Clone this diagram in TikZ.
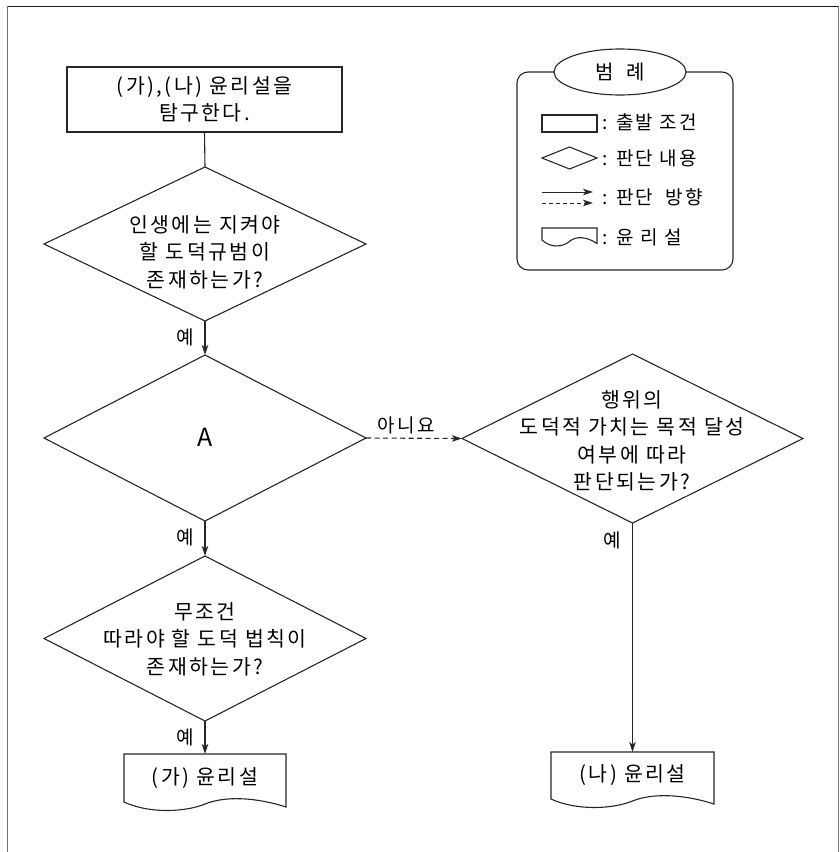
\documentclass[tikz,border=0pt]{standalone}
\usepackage{fontspec}
\setmainfont[LetterSpace=12]{Noto Sans CJK KR}
\usetikzlibrary{shapes.geometric,arrows.meta,calc}
\newcommand\docshape[3]{%
  \draw[line] (#1.north west) -- (#1.north east) -- ($(#1.south east)+(0,{5*#3})$)
    .. controls ($(#1.south west)+({0.81*#2},{-5*#3})$) and ($(#1.south west)+({0.62*#2},{-6*#3})$)
    .. ($(#1.south west)+({0.5*#2},{2*#3})$)
    .. controls ($(#1.south west)+({0.38*#2},{10*#3})$) and ($(#1.south west)+({0.16*#2},{12*#3})$)
    .. (#1.south west) -- cycle;}
\begin{document}
\begin{tikzpicture}[x=1pt,y=-1pt,
  line/.style={draw=black!85, line width=1.1pt},
  arr/.style={line, -{Stealth[length=10pt,width=6.5pt,inset=2.5pt]}},
  dia/.style={diamond, line, inner sep=0pt, outer sep=0pt},
  box/.style={rectangle, line, inner sep=0pt, outer sep=0pt},
  txt/.style={font=\fontsize{20.5}{27.5}\selectfont, align=center, inner sep=0pt},
  lab/.style={font=\fontsize{19}{20}\selectfont, inner sep=0pt},
  doc/.style={rectangle, inner sep=0pt, outer sep=0pt, font=\fontsize{20.5}{22}\selectfont},
]
\useasboundingbox (0,0) rectangle (839,852);
% frame
\draw[black!90, line width=1pt] (7,6) -- (838,6);
\draw[black!55, line width=1pt] (7,6) -- (7,852);
\draw[black!55, line width=1pt] (838,6) -- (838,852);

% start box
\node[box, txt, minimum width=275pt, minimum height=65pt] (st) at (204.5,99.5) {(가),(나) 윤리설을\\탐구한다.};

% diamond 1
\node[dia, minimum width=322pt, minimum height=154pt] (d1) at (205,244) {};
\node[txt] (d1t) at (205,252) {인생에는 지켜야\\할 도덕규범이\\존재하는가?};

% diamond 2
\node[dia, minimum width=322pt, minimum height=166pt] (d2) at (205,438) {};
\node[txt, font=\fontsize{25}{27}\selectfont] (d2t) at (205,437) {A};

% diamond 3
\node[dia, minimum width=341pt, minimum height=169pt] (d3) at (632.5,438.5) {};
\node[txt] (d3t) at (632,441) {행위의\\도덕적 가치는 목적 달성\\여부에 따라\\판단되는가?};

% diamond 4
\node[dia, minimum width=322pt, minimum height=165pt] (d4) at (205,638.5) {};
\node[txt] (d4t) at (205,639) {무조건\\따라야 할 도덕 법칙이\\존재하는가?};

% documents
\node[doc, minimum width=162pt, minimum height=48pt] (ga) at (205,778) {(가) 윤리설};
\docshape{ga}{162}{1}
\node[doc, minimum width=163pt, minimum height=47pt] (na) at (632.5,775.5) {(나) 윤리설};
\docshape{na}{163}{1}

% connectors
\draw[line] (st.south) -- (d1.north);
\draw[arr] (d1.south) -- (d2.north);
\draw[arr] (d2.south) -- (d4.north);
\draw[arr] (d4.south) -- (ga.north);
\draw[arr, dashed, dash pattern=on 5pt off 3.5pt] (d2.east) -- (d3.west);
\draw[arr] (d3.south) -- (na.north);

% labels
\node[lab] (y1) at (185,337) {예};
\node[lab] (y2) at (185,537) {예};
\node[lab] (y3) at (185,737) {예};
\node[lab] (y4) at (612,540) {예};
\node[lab] (no) at (406,425) {아니요};

% legend
\node[line, rounded corners=11pt, minimum width=216pt, minimum height=198pt, inner sep=0pt] (leg) at (625,171) {};
\node[ellipse, line, fill=white, minimum width=132pt, minimum height=46pt, inner sep=0pt, font=\fontsize{20}{22}\selectfont] (legt) at (620,72) {범\hspace{0.6em}례};

\node[box, minimum width=55pt, minimum height=17pt] (lr) at (569.5,123.5) {};
\node[lab, anchor=west] (lrt) at (602,122) {: 출발 조건};

\node[dia, minimum width=55pt, minimum height=22pt] (ld) at (569.5,158) {};
\node[lab, anchor=west] (ldt) at (602,158) {: 판단 내용};

\coordinate (la1) at (542,192);
\coordinate (la2) at (593,192);
\coordinate (lb1) at (542,203);
\coordinate (lb2) at (593,203);
\draw[arr, line width=0.9pt] (la1) -- (la2);
\draw[arr, line width=0.9pt, dashed, dash pattern=on 4pt off 3pt] (lb1) -- (lb2);
\node[lab, anchor=west] (lat) at (602,197) {: 판단\hspace{0.3em} 방향};

\node[doc, minimum width=55pt, minimum height=12pt] (lw) at (569.5,234) {};
\docshape{lw}{55}{0.7}
\node[lab, anchor=west] (lwt) at (602,237) {: 윤 리 설};
\end{tikzpicture}
\end{document}
